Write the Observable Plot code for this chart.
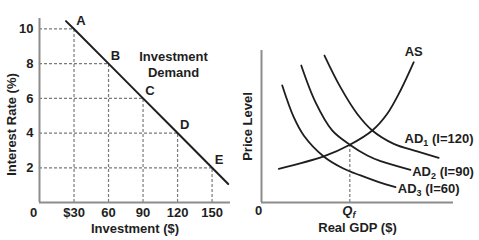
<!DOCTYPE html>
<html>
<head>
<meta charset="utf-8">
<script src="https://cdn.jsdelivr.net/npm/d3@7"></script>
<script src="https://cdn.jsdelivr.net/npm/@observablehq/plot@0.6"></script>
<style>
  html, body { margin: 0; padding: 0; background: #fff; }
  #wrap { display: flex; width: 479px; height: 240px; }
</style>
</head>
<body>
<div id="wrap"></div>
<script>
// ---------- Left panel data: investment demand ----------
const investment = [30, 60, 90, 120, 150];
const interestRate = [10, 8, 6, 4, 2];
const pointLabels = ["A", "B", "C", "D", "E"];
const demandInvestment = [23, 30, 60, 90, 120, 150, 164];
const demandRate = [10.45, 10, 8, 6, 4, 2, 1.07];
const xTicks = [30, 60, 90, 120, 150];
const xTickLabels = ["$30", "60", "90", "120", "150"];
const yTicks = [2, 4, 6, 8, 10];

// ---------- Right panel data: AS / AD (arbitrary units 0-100) ----------
const asGDP   = [9.0, 32.4, 46.0, 57.7, 65.5, 72.4, 79.3];
const asPrice = [22.2, 30.3, 38.0, 47.4, 58.4, 73.7, 92.3];
const ad1GDP   = [32.8, 41.1, 49.8, 57.7, 68.9, 81.1, 92.3];
const ad1Price = [96.7, 75.9, 58.4, 47.4, 38.6, 33.6, 29.4];
const ad2GDP   = [20.7, 28.1, 36.8, 46.0, 55.1, 62.0, 77.6];
const ad2Price = [90.1, 66.0, 47.4, 38.0, 30.9, 27.2, 21.5];
const ad3GDP   = [10.8, 16.8, 22.0, 32.4, 42.9, 51.6, 61.1, 69.8];
const ad3Price = [77.0, 56.1, 44.1, 30.3, 22.2, 17.8, 13.4, 10.1];
const adNames = ["AD1 (I=120)", "AD2 (I=90)", "AD3 (I=60)"];
const qfGDP = 46.0;
const qfPrice = 38.0;

const FONT = "'Liberation Sans', Arial, Helvetica, sans-serif";
const INK = "#1e1e1e";
const AXIS = "#8c8c8c";
const DASH = "#7a7a7a";
const txt = {fontSize: 13, fontWeight: "bold", fill: INK};
const lbl = {...txt, lineAnchor: "middle", textAnchor: "middle"};

// ---------- Left chart ----------
const pts = investment.map((x, i) => ({x, y: interestRate[i], label: pointLabels[i]}));
const demand = demandInvestment.map((x, i) => ({x, y: demandRate[i]}));

const left = Plot.plot({
  width: 240, height: 240,
  marginLeft: 39, marginRight: 10, marginTop: 18, marginBottom: 38,
  x: {domain: [0, 166]},
  y: {domain: [0, 10.6]},
  style: {fontFamily: FONT, fontSize: "13px", fontWeight: "bold", background: "white", color: INK},
  marks: [
    Plot.ruleY(pts, {x1: 0, x2: "x", y: "y", stroke: DASH, strokeWidth: 1.2, strokeDasharray: "3,2"}),
    Plot.ruleX(pts, {x: "x", y1: 0, y2: "y", stroke: DASH, strokeWidth: 1.2, strokeDasharray: "3,2"}),
    Plot.ruleX([0], {stroke: AXIS, strokeWidth: 2}),
    Plot.ruleY([0], {stroke: AXIS, strokeWidth: 2}),
    Plot.line(demand, {x: "x", y: "y", stroke: INK, strokeWidth: 2}),
    Plot.text(pts, {x: "x", y: "y", text: "label", dx: 7, dy: -8, ...lbl}),
    Plot.text(["Investment\nDemand"], {x: 116.5, y: 8.0, text: d => d, lineHeight: 1.3, ...lbl}),
    Plot.axisY(yTicks, {tickSize: 0, tickPadding: 6, label: null, ...txt}),
    Plot.axisX(xTicks, {tickSize: 0, tickPadding: 5, label: null,
      tickFormat: d => xTickLabels[xTicks.indexOf(d)], ...txt}),
    Plot.text(["0"], {text: d => d, frameAnchor: "bottom-left", dx: -6, dy: 10, ...lbl}),
    Plot.text(["Interest Rate (%)"], {text: d => d, frameAnchor: "left", rotate: -90, dx: -28, dy: 14, ...lbl}),
    Plot.text(["Investment ($)"], {text: d => d, frameAnchor: "bottom", dy: 26, ...lbl})
  ]
});

// ---------- Right chart ----------
const curves = [];
asGDP.forEach((x, i) => curves.push({curve: "AS", x, y: asPrice[i]}));
ad1GDP.forEach((x, i) => curves.push({curve: "AD1", x, y: ad1Price[i]}));
ad2GDP.forEach((x, i) => curves.push({curve: "AD2", x, y: ad2Price[i]}));
ad3GDP.forEach((x, i) => curves.push({curve: "AD3", x, y: ad3Price[i]}));

const adLabels = [
  {name: adNames[0], x: 74.5, y: 41.8},
  {name: adNames[1], x: 78.5, y: 20.1},
  {name: adNames[2], x: 71.0, y: 9.0}
];

const right = Plot.plot({
  width: 239, height: 240,
  marginLeft: 21, marginRight: 26, marginTop: 50, marginBottom: 38,
  x: {domain: [0, 100], axis: null},
  y: {domain: [0, 100], axis: null},
  style: {fontFamily: FONT, fontSize: "13px", fontWeight: "bold", background: "white", color: INK},
  marks: [
    Plot.ruleX([qfGDP], {y1: 0, y2: qfPrice, stroke: DASH, strokeWidth: 1.2, strokeDasharray: "3,2"}),
    Plot.ruleX([0], {stroke: AXIS, strokeWidth: 2}),
    Plot.ruleY([0], {stroke: AXIS, strokeWidth: 2}),
    Plot.line(curves, {x: "x", y: "y", z: "curve", curve: "catmull-rom", stroke: INK, strokeWidth: 1.8}),
    Plot.text(["AS"], {text: d => d, x: asGDP[asGDP.length - 1], y: asPrice[asPrice.length - 1], dy: -10, ...lbl}),
    Plot.text(adLabels, {x: "x", y: "y", text: "name", ...txt, lineAnchor: "middle", textAnchor: "start"}),
    Plot.text(["0"], {text: d => d, frameAnchor: "bottom-left", dx: -3, dy: 8, ...lbl}),
    Plot.text(["Qf"], {text: d => d, x: qfGDP, frameAnchor: "bottom", dx: -1, dy: 8, ...lbl}),
    Plot.text(["Real GDP ($)"], {text: d => d, frameAnchor: "bottom", dy: 25, ...lbl}),
    Plot.text(["Price Level"], {text: d => d, frameAnchor: "left", rotate: -90, dx: -14, ...lbl})
  ]
});

// ---------- Subscripts ----------
const NS = "http://www.w3.org/2000/svg";
function tspan(parent, str, attrs) {
  const t = document.createElementNS(NS, "tspan");
  t.textContent = str;
  for (const k in attrs) t.setAttribute(k, attrs[k]);
  parent.appendChild(t);
}
right.querySelectorAll("text").forEach(t => {
  if (t.querySelector("tspan")) return;
  const s = t.textContent;
  let m = s.match(/^(AD)(\d)(.*)$/);
  if (m) {
    t.textContent = "";
    tspan(t, m[1], {});
    tspan(t, m[2], {dy: 3, "font-size": 9});
    tspan(t, m[3], {dy: -3});
  } else if (s === "Qf") {
    t.textContent = "";
    tspan(t, "Q", {"font-style": "italic"});
    tspan(t, "f", {dy: 3, "font-size": 9, "font-style": "italic"});
  }
});

const wrap = document.getElementById("wrap");
wrap.appendChild(left);
wrap.appendChild(right);
</script>
</body>
</html>
